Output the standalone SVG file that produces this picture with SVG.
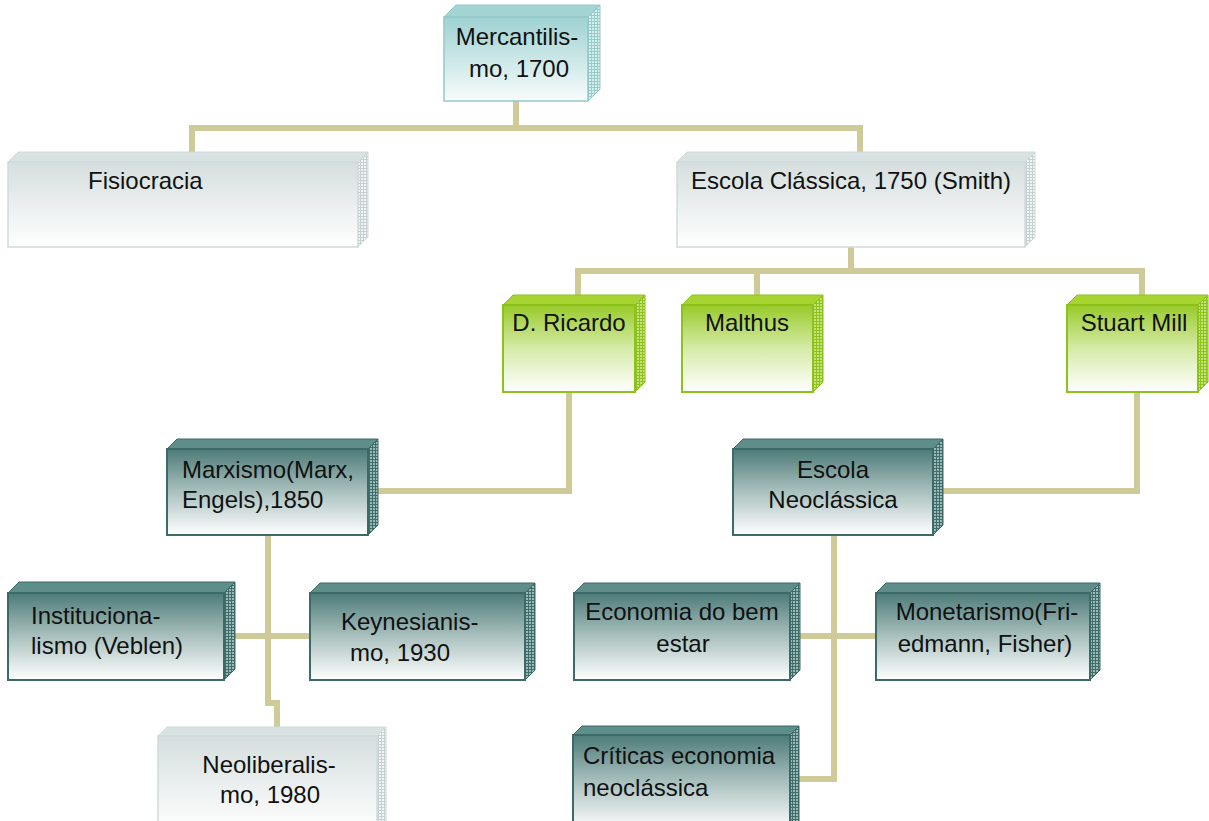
<svg xmlns="http://www.w3.org/2000/svg" width="1209" height="821" viewBox="0 0 1209 821">
<defs>
<linearGradient id="gGray" x1="0" y1="0" x2="0" y2="1"><stop offset="0" stop-color="#D5DEDE"/><stop offset="1" stop-color="#FFFFFF"/></linearGradient>
<linearGradient id="gMerc" x1="0" y1="0" x2="0" y2="1"><stop offset="0" stop-color="#9ED2D2"/><stop offset="1" stop-color="#F8FCFC"/></linearGradient>
<linearGradient id="gGreen" x1="0" y1="0" x2="0" y2="1"><stop offset="0" stop-color="#98CA28"/><stop offset="0.5" stop-color="#D6EBA8"/><stop offset="1" stop-color="#FFFFFF"/></linearGradient>
<linearGradient id="gTeal" x1="0" y1="0" x2="0" y2="1"><stop offset="0" stop-color="#4D7B78"/><stop offset="0.5" stop-color="#AAC1BF"/><stop offset="1" stop-color="#FFFFFF"/></linearGradient>
<pattern id="pGray" width="3" height="3" patternUnits="userSpaceOnUse"><rect width="3" height="3" fill="#F2F5F5"/><path d="M0,0.5H3M0.5,0V3" stroke="#C5D0D0" stroke-width="1"/></pattern>
<pattern id="pMerc" width="3" height="3" patternUnits="userSpaceOnUse"><rect width="3" height="3" fill="#D6EEEE"/><path d="M0,0.5H3M0.5,0V3" stroke="#98CBCB" stroke-width="1"/></pattern>
<pattern id="pGreen" width="3" height="3" patternUnits="userSpaceOnUse"><rect width="3" height="3" fill="#C4E27A"/><path d="M0,0.5H3M0.5,0V3" stroke="#8DC21F" stroke-width="1"/></pattern>
<pattern id="pTeal" width="3" height="3" patternUnits="userSpaceOnUse"><rect width="3" height="3" fill="#9DB9B7"/><path d="M0,0.5H3M0.5,0V3" stroke="#3E6D6A" stroke-width="1"/></pattern>
</defs>
<style>
text{font-family:"Liberation Sans",Arial,sans-serif;font-size:24px;fill:#111}
.m{text-anchor:middle}
.gray .front{fill:url(#gGray);stroke:#CFDADA;stroke-width:1.5}
.gray .top{fill:#D9E2E2;stroke:#CFDADA;stroke-width:1}
.gray .side{fill:url(#pGray);stroke:#CFDADA;stroke-width:1}
.merc .front{fill:url(#gMerc);stroke:#94C8C8;stroke-width:1.5}
.merc .top{fill:#A3D4D4;stroke:#94C8C8;stroke-width:1}
.merc .side{fill:url(#pMerc);stroke:#94C8C8;stroke-width:1}
.green .front{fill:url(#gGreen);stroke:#8CC21A;stroke-width:2}
.green .top{fill:#A8D432;stroke:#8CC21A;stroke-width:1}
.green .side{fill:url(#pGreen);stroke:#8CC21A;stroke-width:1}
.teal .front{fill:url(#gTeal);stroke:#3B6A68;stroke-width:2}
.teal .top{fill:#5E8D8A;stroke:#3B6A68;stroke-width:1}
.teal .side{fill:url(#pTeal);stroke:#3B6A68;stroke-width:1}
.conn{fill:none;stroke:#CFCB98;stroke-width:6;stroke-linejoin:miter;stroke-linecap:butt}
</style>
<g id="connectors" class="conn">
<path d="M516,101V128"/>
<path d="M192,152V128H860V152"/>
<path d="M851,247V271"/>
<path d="M578,295V271H1142V295"/>
<path d="M757,271V295"/>
<path d="M569,392V491H378"/>
<path d="M1137,392V491H943"/>
<path d="M268,535V703H277V727"/>
<path d="M235,636H310"/>
<path d="M834,535V779H799"/>
<path d="M800,636H876"/>
</g>
<g id="n-mercantilismo" class="merc">
<polygon class="top" points="444,17 456,5 600,5 588,17"/>
<polygon class="side" points="588,17 600,5 600,89 588,101"/>
<rect class="front" x="444" y="17" width="144" height="84"/>
<text class="m" x="517" y="45">Mercantilis-</text>
<text class="m" x="519" y="77">mo, 1700</text>
</g>
<g id="n-fisiocracia" class="gray">
<polygon class="top" points="8,162 18,152 368,152 358,162"/>
<polygon class="side" points="358,162 368,152 368,237 358,247"/>
<rect class="front" x="8" y="162" width="350" height="85"/>
<text x="88" y="189">Fisiocracia</text>
</g>
<g id="n-classica" class="gray">
<polygon class="top" points="677,162 687,152 1035,152 1025,162"/>
<polygon class="side" points="1025,162 1035,152 1035,237 1025,247"/>
<rect class="front" x="677" y="162" width="348" height="85"/>
<text class="m" x="851" y="189">Escola Clássica, 1750 (Smith)</text>
</g>
<g id="n-ricardo" class="green">
<polygon class="top" points="503,305 513,295 645,295 635,305"/>
<polygon class="side" points="635,305 645,295 645,382 635,392"/>
<rect class="front" x="503" y="305" width="132" height="87"/>
<text class="m" x="569" y="331">D. Ricardo</text>
</g>
<g id="n-malthus" class="green">
<polygon class="top" points="682,305 692,295 823,295 813,305"/>
<polygon class="side" points="813,305 823,295 823,382 813,392"/>
<rect class="front" x="682" y="305" width="131" height="87"/>
<text class="m" x="747" y="331">Malthus</text>
</g>
<g id="n-mill" class="green">
<polygon class="top" points="1067,305 1077,295 1208,295 1198,305"/>
<polygon class="side" points="1198,305 1208,295 1208,382 1198,392"/>
<rect class="front" x="1067" y="305" width="131" height="87"/>
<text class="m" x="1134" y="331">Stuart Mill</text>
</g>
<g id="n-marxismo" class="teal">
<polygon class="top" points="167,449 177,439 378,439 368,449"/>
<polygon class="side" points="368,449 378,439 378,525 368,535"/>
<rect class="front" x="167" y="449" width="201" height="86"/>
<text x="182" y="478">Marxismo(Marx,</text>
<text x="182" y="508">Engels),1850</text>
</g>
<g id="n-neoclassica" class="teal">
<polygon class="top" points="733,449 743,439 943,439 933,449"/>
<polygon class="side" points="933,449 943,439 943,525 933,535"/>
<rect class="front" x="733" y="449" width="200" height="86"/>
<text class="m" x="833" y="478">Escola</text>
<text class="m" x="833" y="508">Neoclássica</text>
</g>
<g id="n-institucionalismo" class="teal">
<polygon class="top" points="8,593 19,582 235,582 224,593"/>
<polygon class="side" points="224,593 235,582 235,669 224,680"/>
<rect class="front" x="8" y="593" width="216" height="87"/>
<text x="31" y="624">Instituciona-</text>
<text x="31" y="654">lismo (Veblen)</text>
</g>
<g id="n-keynesianismo" class="teal">
<polygon class="top" points="310,593 320,583 535,583 525,593"/>
<polygon class="side" points="525,593 535,583 535,670 525,680"/>
<rect class="front" x="310" y="593" width="215" height="87"/>
<text x="341" y="630">Keynesianis-</text>
<text x="350" y="661">mo, 1930</text>
</g>
<g id="n-bemestar" class="teal">
<polygon class="top" points="574,593 584,583 800,583 790,593"/>
<polygon class="side" points="790,593 800,583 800,670 790,680"/>
<rect class="front" x="574" y="593" width="216" height="87"/>
<text class="m" x="682" y="620">Economia do bem</text>
<text class="m" x="683" y="652">estar</text>
</g>
<g id="n-monetarismo" class="teal">
<polygon class="top" points="876,593 886,583 1100,583 1090,593"/>
<polygon class="side" points="1090,593 1100,583 1100,670 1090,680"/>
<rect class="front" x="876" y="593" width="214" height="87"/>
<text class="m" x="987" y="620">Monetarismo(Fri-</text>
<text class="m" x="985" y="652">edmann, Fisher)</text>
</g>
<g id="n-neoliberalismo" class="gray">
<polygon class="top" points="158,736 167,727 386,727 377,736"/>
<polygon class="side" points="377,736 386,727 386,822 377,831"/>
<rect class="front" x="158" y="736" width="219" height="95"/>
<text class="m" x="269" y="773">Neoliberalis-</text>
<text class="m" x="270" y="803">mo, 1980</text>
</g>
<g id="n-criticas" class="teal">
<polygon class="top" points="573,735 582,726 799,726 790,735"/>
<polygon class="side" points="790,735 799,726 799,821 790,830"/>
<rect class="front" x="573" y="735" width="217" height="95"/>
<text x="583" y="764">Críticas economia</text>
<text x="583" y="796">neoclássica</text>
</g>
</svg>
